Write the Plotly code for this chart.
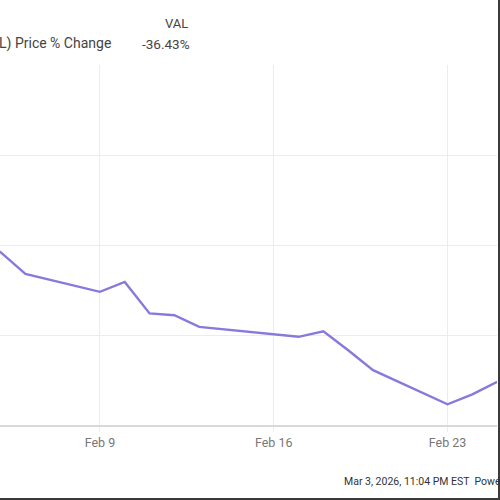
import plotly.graph_objects as go

# VAL price % change
dates = ["2026-02-04", "2026-02-05", "2026-02-06", "2026-02-09", "2026-02-10",
         "2026-02-11", "2026-02-12", "2026-02-13", "2026-02-17", "2026-02-18",
         "2026-02-19", "2026-02-20", "2026-02-23", "2026-02-24", "2026-02-25"]
pct_change = [-19.3, -20.8, -23.2, -25.2, -24.1,
              -27.6, -27.8, -29.1, -30.2, -29.6,
              -31.7, -33.9, -37.7, -36.6, -35.2]

tick_dates = ["2026-02-09", "2026-02-16", "2026-02-23"]
tick_labels = ["Feb 9", "Feb 16", "Feb 23"]
y_grid = [-40, -30, -20, -10, 0]

W, H = 500, 500
L, R, T, B = 0, 3, 65, 75
pw, ph = W - L - R, H - T - B


def px(x):
    return (x - L) / pw


def py(y):
    return (H - B - y) / ph


fig = go.Figure()
fig.add_trace(go.Scatter(x=dates, y=pct_change,
                         mode='lines',
                         line=dict(color='#8a78dc', width=2.4),
                         hoverinfo='skip'))

fig.update_layout(
    width=W, height=H,
    margin=dict(l=L, r=R, t=T, b=B),
    paper_bgcolor='white',
    plot_bgcolor='white',
    showlegend=False,
    font=dict(family='Roboto, Arial, sans-serif', color='#444'),
    xaxis=dict(range=["2026-02-04 23:25", "2026-02-24 23:50"],
               tickvals=tick_dates, ticktext=tick_labels,
               showgrid=True, gridcolor='#ececec', gridwidth=1,
               ticks='outside', ticklen=5, tickcolor='#ececec',
               tickfont=dict(size=12.5, color='#777'),
               showline=True, linecolor='#d8d8d8', linewidth=1.5,
               zeroline=False),
    yaxis=dict(range=[-40, 0], tickvals=y_grid,
               showticklabels=False,
               showgrid=True, gridcolor='#ececec', gridwidth=1,
               zeroline=False, showline=False),
    annotations=[
        dict(text="VAL", x=px(190), y=py(24), xref='paper', yref='paper',
             xanchor='right', yanchor='middle', showarrow=False,
             font=dict(size=13, color='#444')),
        dict(text="Valaris Ltd (VAL) Price % Change", x=px(113), y=py(44),
             xref='paper', yref='paper', xanchor='right', yanchor='middle',
             showarrow=False, font=dict(size=14, color='#444')),
        dict(text="-36.43%", x=px(192), y=py(44), xref='paper', yref='paper',
             xanchor='right', yanchor='middle', showarrow=False,
             font=dict(size=13.5, color='#444')),
        dict(text="Mar 3, 2026, 11:04 PM EST  Powered by YCHARTS",
             x=px(342), y=py(482), xref='paper', yref='paper',
             xanchor='left', yanchor='middle', showarrow=False,
             font=dict(size=10.5, color='#333')),
    ],
    shapes=[
        # dark frame at the right and bottom edges of the screenshot
        dict(type='rect', xref='paper', yref='paper',
             x0=px(498), x1=px(503), y0=py(503), y1=py(-3),
             fillcolor='#3a3a3a', line=dict(width=0), layer='above'),
        dict(type='rect', xref='paper', yref='paper',
             x0=px(-3), x1=px(503), y0=py(503), y1=py(498),
             fillcolor='#3a3a3a', line=dict(width=0), layer='above'),
    ],
)

# the page has a default body margin; drop it so the chart sits at 0,0
fig.write_html("out.html",
               config={'displayModeBar': False},
               post_script="document.body.style.margin='0';"
                           "document.body.style.overflow='hidden';")
